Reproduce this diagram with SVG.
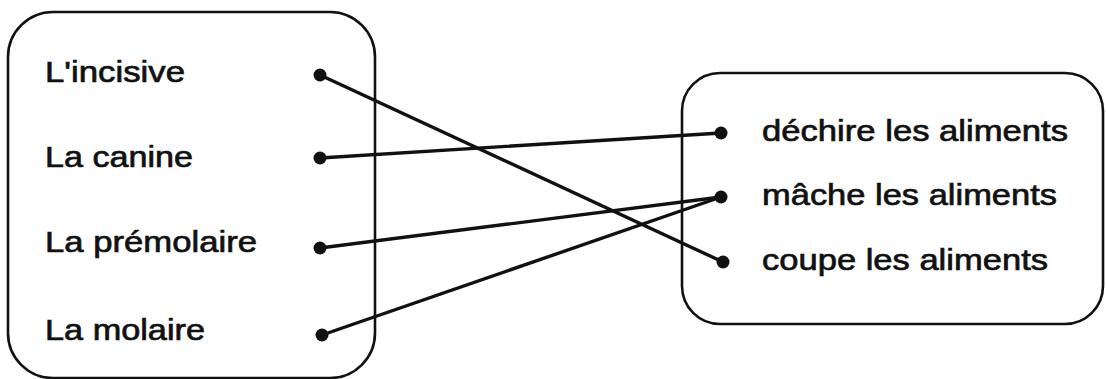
<svg xmlns="http://www.w3.org/2000/svg" width="1106" height="379" viewBox="0 0 1106 379">
<style>
.box{fill:none;stroke:#111;stroke-width:2.6}
.lbl{font-family:"Liberation Sans",Arial,sans-serif;font-size:30px;fill:#111;stroke:#111;stroke-width:0.7}
.dot{fill:#111}
.con{stroke:#111;stroke-width:3.4;fill:none;stroke-linecap:round}
</style>
<rect width="1106" height="379" fill="#fff"/>
<g id="left-box">
<rect class="box" x="8" y="12" width="367" height="366" rx="45"/>
</g>
<g id="right-box">
<rect class="box" x="682" y="73" width="421" height="251" rx="38"/>
</g>
<g id="n-incisive"><text class="lbl" x="45" y="82" textLength="140" lengthAdjust="spacingAndGlyphs">L'incisive</text><circle class="dot" cx="320" cy="75" r="6.5"/></g>
<g id="n-canine"><text class="lbl" x="45" y="167" textLength="148" lengthAdjust="spacingAndGlyphs">La canine</text><circle class="dot" cx="320" cy="158" r="6.5"/></g>
<g id="n-premolaire"><text class="lbl" x="45" y="252" textLength="212" lengthAdjust="spacingAndGlyphs">La prémolaire</text><circle class="dot" cx="320" cy="248" r="6.5"/></g>
<g id="n-molaire"><text class="lbl" x="45" y="340" textLength="160" lengthAdjust="spacingAndGlyphs">La molaire</text><circle class="dot" cx="322" cy="335" r="6.5"/></g>
<g id="n-dechire"><text class="lbl" x="762" y="141" textLength="306" lengthAdjust="spacingAndGlyphs">déchire les aliments</text><circle class="dot" cx="721" cy="133" r="6.5"/></g>
<g id="n-mache"><text class="lbl" x="762" y="205" textLength="295" lengthAdjust="spacingAndGlyphs">mâche les aliments</text><circle class="dot" cx="721" cy="197" r="6.5"/></g>
<g id="n-coupe"><text class="lbl" x="762" y="270" textLength="286" lengthAdjust="spacingAndGlyphs">coupe les aliments</text><circle class="dot" cx="723" cy="262" r="6.5"/></g>
<g id="connectors">
<line class="con" x1="320" y1="75" x2="723" y2="262"/>
<line class="con" x1="320" y1="158" x2="721" y2="133"/>
<line class="con" x1="320" y1="248" x2="721" y2="197"/>
<line class="con" x1="322" y1="335" x2="721" y2="197"/>
</g>
</svg>
